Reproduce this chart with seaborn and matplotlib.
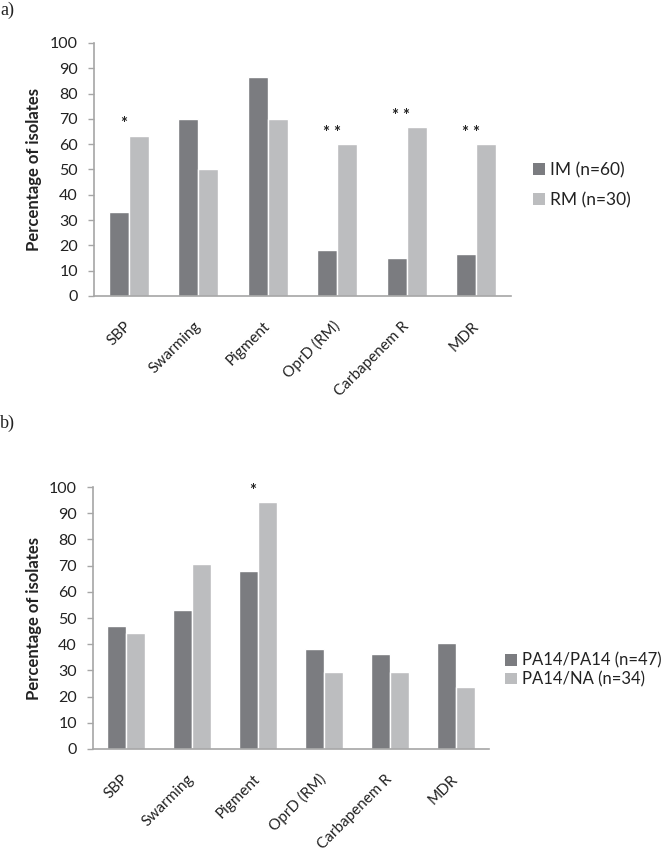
import numpy as np
import pandas as pd
import matplotlib
matplotlib.use('Agg')
import matplotlib.pyplot as plt
import seaborn as sns
from matplotlib.patches import Patch

# data (percent of isolates)
categories = ['SBP', 'Swarming', 'Pigment', 'OprD (RM)', 'Carbapenem R', 'MDR']

a_groups = ['IM (n=60)', 'RM (n=30)']
a_im = [33.3, 70.0, 86.7, 18.3, 15.0, 16.7]
a_rm = [63.3, 50.0, 70.0, 60.0, 66.7, 60.0]
a_stars = ['*', '', '', '* *', '* *', '* *']

b_groups = ['PA14/PA14 (n=47)', 'PA14/NA (n=34)']
b_pa14 = [46.8, 53.2, 68.1, 38.3, 36.2, 40.4]
b_na = [44.1, 70.6, 94.1, 29.4, 29.4, 23.5]
b_stars = ['', '', '*', '', '', '']

yticks = list(range(0, 101, 10))
colors = ['#7b7c80', '#bcbdbf']
spine_col = '#a6a6a6'
text_col = '#222222'

sns.set_theme(style='white')
plt.rcParams['font.family'] = ['Lato', 'DejaVu Sans']


def draw(ax, groups, s1, s2, stars, label_x, leg_anchor, leg_spacing, leg_size):
    df = pd.DataFrame({
        'cat': categories * 2,
        'grp': [groups[0]] * len(categories) + [groups[1]] * len(categories),
        'val': s1 + s2,
    })
    sns.barplot(data=df, x='cat', y='val', hue='grp', palette=colors,
                width=0.58, saturation=1, ax=ax, legend=False)
    ax.set_xlim(-0.5, len(categories) - 0.5)
    ax.set_ylim(0, 100)
    ax.set_yticks(yticks)
    ax.set_xlabel('')
    ax.set_ylabel('Percentage of isolates', fontsize=12, fontweight='bold', color=text_col)
    ax.yaxis.set_label_coords(label_x, 0.5)
    for side in ['top', 'right']:
        ax.spines[side].set_visible(False)
    for side in ['left', 'bottom']:
        ax.spines[side].set_color(spine_col)
        ax.spines[side].set_linewidth(1.2)
    ax.tick_params(axis='y', left=True, length=4.5, width=1, color=spine_col,
                   labelsize=11.5, labelcolor=text_col, pad=7)
    ax.tick_params(axis='x', bottom=False, labelsize=11, labelcolor=text_col, pad=14)
    plt.setp(ax.get_xticklabels(), rotation=45, ha='right', va='center',
             rotation_mode='anchor')

    for i, s in enumerate(stars):
        if s:
            top = max(s1[i], s2[i])
            ax.text(i - 0.08, top + 4.5, s, ha='center', va='center',
                    fontsize=12, fontweight='bold', color=text_col)

    handles = [Patch(facecolor=c, edgecolor='none') for c in colors]
    ax.legend(handles, groups, loc='center left', bbox_to_anchor=leg_anchor,
              bbox_transform=ax.figure.transFigure, frameon=False,
              fontsize=leg_size, handlelength=0.7, handleheight=0.7,
              handletextpad=0.3, labelspacing=leg_spacing, borderaxespad=0,
              borderpad=0, labelcolor=text_col)


fig = plt.figure(figsize=(6.66, 8.5), dpi=100)

ax_a = fig.add_axes([94 / 666, 1 - 296 / 850, (511 - 94) / 666, (296 - 43) / 850])
draw(ax_a, a_groups, a_im, a_rm, a_stars, -0.125, (533 / 666, 1 - 185 / 850), 0.8, 12.5)

ax_b = fig.add_axes([93 / 666, 1 - 749 / 850, (489 - 93) / 666, (749 - 487) / 850])
draw(ax_b, b_groups, b_pa14, b_na, b_stars, -0.129, (505 / 666, 1 - 670 / 850), 0.15, 12)

fig.text(0.0, 1 - 10 / 850, 'a)', fontsize=13, family=['Liberation Serif'],
         ha='left', va='center', color=text_col)
fig.text(0.0, 1 - 423 / 850, 'b)', fontsize=13, family=['Liberation Serif'],
         ha='left', va='center', color=text_col)

fig.savefig('out.png', dpi=100, facecolor='white')
